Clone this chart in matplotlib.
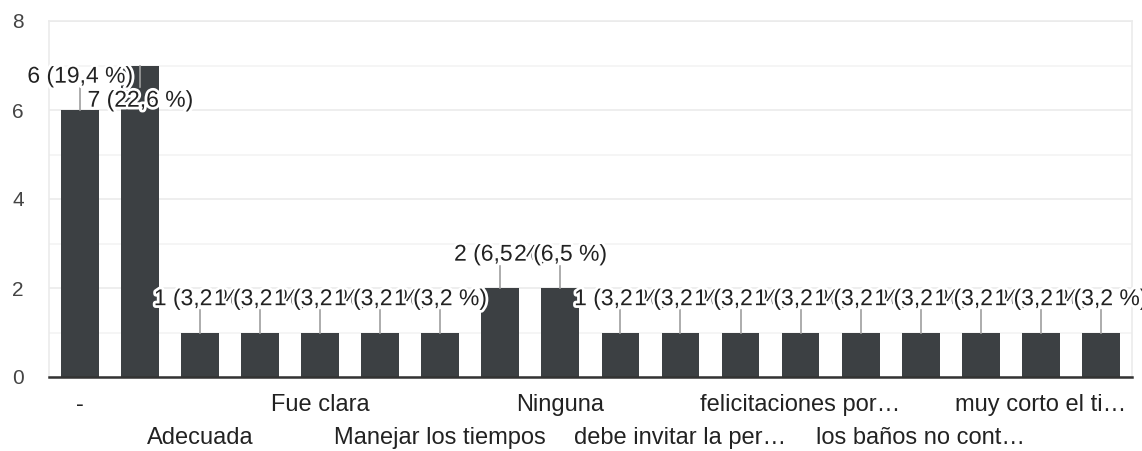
import matplotlib
matplotlib.use("Agg")
import matplotlib.pyplot as plt
import matplotlib.patheffects as pe
from matplotlib.ticker import MultipleLocator

# ---- data ----
categories = ["-", "", "Adecuada", "", "Fue clara", "", "Manejar los tiempos", "",
              "Ninguna", "", "debe invitar la per…", "", "felicitaciones por…", "",
              "los baños no cont…", "", "muy corto el ti…", ""]
counts = [6, 7, 1, 1, 1, 1, 1, 2, 2, 1, 1, 1, 1, 1, 1, 1, 1, 1]
percent_labels = ["19,4", "22,6", "3,2", "3,2", "3,2", "3,2", "3,2", "6,5", "6,5",
                  "3,2", "3,2", "3,2", "3,2", "3,2", "3,2", "3,2", "3,2", "3,2"]
yticks = [0, 2, 4, 6, 8]

plt.rcParams['font.family'] = ['Liberation Sans', 'DejaVu Sans']

W, H = 1142, 451
fig = plt.figure(figsize=(W / 100, H / 100), dpi=100)
ax = fig.add_axes([49 / W, (H - 377) / H, (1132 - 49) / W, (377 - 21) / H])

bar_color = "#3c4043"
x = list(range(len(counts)))
ax.bar(x, counts, width=0.63, color=bar_color, zorder=3)

ax.set_xlim(-0.517, 17.52)
ax.set_ylim(0, 8)
ax.set_yticks(yticks)
ax.yaxis.set_minor_locator(MultipleLocator(1))
ax.grid(which='major', axis='y', color='#ebebeb', lw=1.2, zorder=0)
ax.grid(which='minor', axis='y', color='#f4f4f4', lw=1.2, zorder=0)
ax.tick_params(axis='y', which='both', length=0, pad=18, labelsize=15, labelcolor='#444444')
ax.tick_params(axis='x', length=0, labelbottom=False)
for s in ['left', 'right', 'top']:
    ax.spines[s].set_color('#ebebeb')
    ax.spines[s].set_linewidth(1.2)
ax.spines['bottom'].set_color('#333333')
ax.spines['bottom'].set_linewidth(1.8)
ax.spines['bottom'].set_zorder(4)

# x labels, every other category in alternating rows
for i, lab in enumerate(categories):
    if i % 2 == 1 or not lab:
        continue
    row = (i // 2) % 2
    ax.annotate(lab, xy=(i, 0), xycoords=('data', 'axes fraction'),
                xytext=(0, -28 - 33 * row), textcoords='offset pixels',
                ha='center', va='center', fontsize=17, color='#222222',
                annotation_clip=False)

# value labels with leader lines
halo = [pe.withStroke(linewidth=4, foreground='white')]
for i, (c, p) in enumerate(zip(counts, percent_labels)):
    if i == 1:
        line_end, text_y = c - 0.48, c - 0.78
    else:
        line_end, text_y = c + 0.5, c + 0.76
    ax.plot([i, i], [c, line_end], color='#9e9e9e', lw=1.2, zorder=4, clip_on=False)
    ax.text(i, text_y, f"{c} ({p} %)", ha='center', va='center', fontsize=16.5,
            color='#222222', path_effects=halo, zorder=5 + i, clip_on=False)

fig.savefig("out.png", dpi=100)
